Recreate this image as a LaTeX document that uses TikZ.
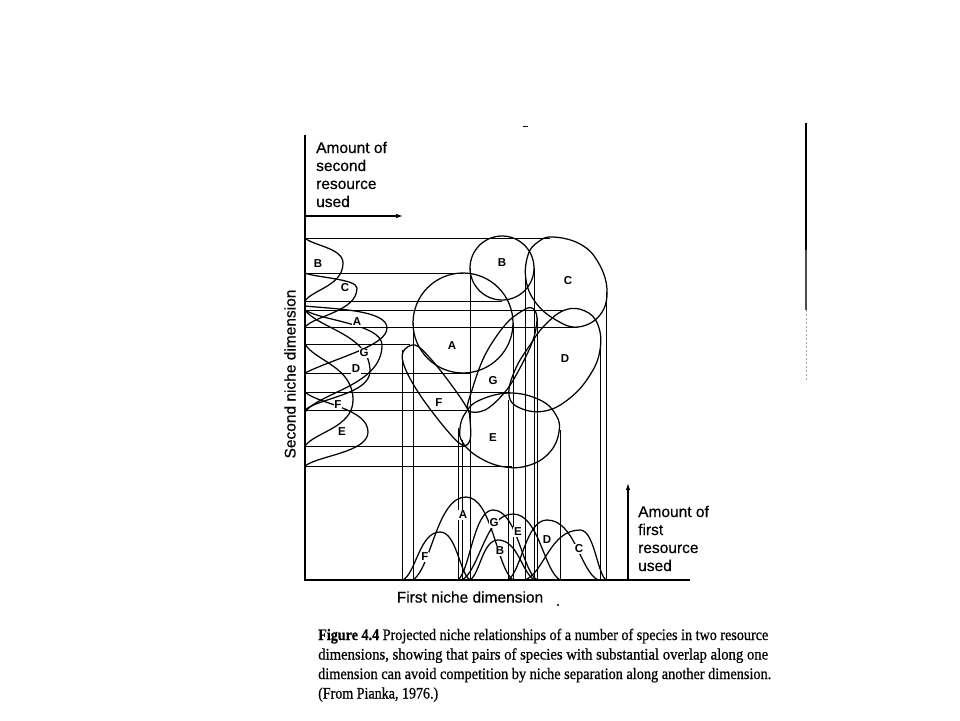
\documentclass[tikz,border=0pt]{standalone}
\usepackage{fontspec}
\setmainfont{Liberation Serif}
\setsansfont{Liberation Sans}
\newfontfamily\capfont[FakeBold=0.7]{Liberation Serif}
\newfontfamily\figfont[FakeBold=0.5]{Liberation Sans}
\usepackage{graphicx}
\usetikzlibrary{arrows.meta}
\tikzset{
 curve/.style={line width=1.25pt, line join=round},
 proj/.style={line width=0.8pt},
 axisline/.style={line width=1.7pt},
 lab/.style={font=\sffamily\bfseries\fontsize{11.5}{13}\selectfont, inner sep=0.8pt, fill=white},
 axtext/.style={font=\figfont\fontsize{15.5}{18}\selectfont, inner sep=0pt, anchor=base west},
 captext/.style={font=\capfont\fontsize{16}{18}\selectfont, inner sep=0pt, anchor=base west},
}
% bottom bell: x0, peak x, peak y, x1
\newcommand\bbell[5][]{\draw[curve,#1] (#2,580) .. controls ({#2+0.35*(#3-#2)},{580-0.15*(580-#4)}) and ({#3-0.55*(#3-#2)},#4) .. (#3,#4) .. controls ({#3+0.55*(#5-#3)},#4) and ({#5-0.35*(#5-#3)},{580-0.15*(580-#4)}) .. (#5,580);}
% left bell: y0, peak y, peak x, y1
\newcommand\lbell[5][]{\draw[curve,#1] (305,#2) .. controls ({305+0.2*(#4-305)},{#2+0.3*(#3-#2)}) and (#4,{#3-0.6*(#3-#2)}) .. (#4,#3) .. controls (#4,{#3+0.6*(#5-#3)}) and ({305+0.2*(#4-305)},{#5-0.3*(#5-#3)}) .. (305,#5);}
\begin{document}
\begin{tikzpicture}[x=1pt,y=-1pt]
\useasboundingbox (0,0) rectangle (960,720);
\fill[white] (0,0) rectangle (960,720);

% axes
\draw[axisline] (305,135) -- (305,580) -- (690,580);
\draw[line width=1.2pt,-{Latex[length=7pt,width=4.5pt]}] (305,216) -- (403,216);
\draw[line width=1.2pt,-{Latex[length=7pt,width=4.5pt]}] (628,580) -- (628,483);

% projection lines
\foreach \y/\xe in {238/550, 273/463, 301/502, 310/565, 327/578, 344/410, 373/470, 392/510, 410/468, 446/465, 466/512}
  \draw[proj] (305,\y) -- (\xe,\y);
\foreach \x/\yt in {402/350, 413/323, 458/428, 462/440, 470/268, 508/400, 513/323, 525/268, 534/268, 537/318, 560/430, 600/345, 606/292}
  \draw[proj] (\x,\yt) -- (\x,580);

% two-dimensional niches
\draw[curve] (502,268) circle[radius=32pt];
\draw[curve] (463,323) circle[radius=50pt];
\draw[curve] plot[smooth cycle, tension=0.7] coordinates {(553,237) (580,244) (598,262) (607,290) (600,315) (578,327) (556,320) (536,303) (526,280) (528,255) (538,242)};
\draw[curve] plot[smooth cycle, tension=0.7] coordinates {(565,310) (585,311) (598,325) (600,350) (590,375) (570,398) (545,411) (520,408) (509,395) (515,370) (530,345) (545,325)};
\draw[curve] plot[smooth cycle, tension=0.6] coordinates {(468,410) (472,390) (485,355) (505,325) (522,311) (532,308) (537,318) (533,340) (520,368) (505,392) (485,410)};
\draw[curve] plot[smooth cycle, tension=0.6] coordinates {(403,352) (405,368) (420,395) (445,428) (462,445) (470,440) (470,420) (467,408) (450,383) (430,358) (415,345)};
\draw[curve] plot[smooth cycle, tension=0.7] coordinates {(460,428) (466,412) (480,400) (510,393) (540,400) (556,415) (559,432) (550,452) (530,465) (505,467) (480,458) (463,443)};

% left projections (second dimension)
\lbell{238}{263}{343}{301}
\lbell{273}{288}{357}{327}
\draw[curve] (305,306) .. controls (335,309) and (387,310) .. (387,328) .. controls (387,346) and (335,358) .. (305,373);
\lbell{310}{345}{382}{412}
\lbell{310}{371}{370}{410}
\lbell{344}{400}{353}{446}
\lbell{392}{432}{368}{466}

% bottom projections (first dimension)
\bbell{403}{440}{532}{470}
\bbell{413}{466}{497}{513}
\bbell{458}{493}{510}{537}
\bbell{470}{498}{540}{535}
\bbell{462}{513}{514}{560}
\bbell{508}{547}{520}{598}
\bbell{525}{580}{530}{606}

% labels: left
\node[lab] (lB) at (318,264) {B};
\node[lab] (lC) at (345,288) {C};
\node[lab] (lA) at (357,322) {A};
\node[lab] (lG) at (364,353) {G};
\node[lab] (lD) at (356,369) {D};
\node[lab] (lF) at (338,405) {F};
\node[lab] (lE) at (342,432) {E};
% labels: bottom
\node[lab] (bF) at (425,557) {F};
\node[lab] (bA) at (463,515) {A};
\node[lab] (bG) at (494,523) {G};
\node[lab] (bB) at (500,551) {B};
\node[lab] (bE) at (518,532) {E};
\node[lab] (bD) at (547,540) {D};
\node[lab] (bC) at (579,549) {C};
% labels: niches
\node[lab] (nB) at (502,263) {B};
\node[lab] (nC) at (568,281) {C};
\node[lab] (nA) at (452,346) {A};
\node[lab] (nD) at (565,359) {D};
\node[lab] (nG) at (493,381) {G};
\node[lab] (nF) at (439,403) {F};
\node[lab] (nE) at (493,438) {E};

% axis texts
\node[axtext] (t1) at (316,153) {Amount of};
\node[axtext] (t2) at (316,171) {second};
\node[axtext] (t3) at (316,189) {resource};
\node[axtext] (t4) at (316,207) {used};
\node[axtext] (r1) at (638,517) {Amount of};
\node[axtext] (r2) at (638,535) {first};
\node[axtext] (r3) at (638,553) {resource};
\node[axtext] (r4) at (638,571) {used};
\node[font=\figfont\fontsize{15.5}{18}\selectfont, inner sep=0pt, rotate=90] (yl) at (290,374) {Second niche dimension};
\node[font=\figfont\fontsize{15.5}{18}\selectfont, inner sep=0pt] (xl) at (470,597) {First niche dimension};

% caption
\node[captext] (c1) at (318,640) {\resizebox{450pt}{\height}{\textbf{Figure 4.4} Projected niche relationships of a number of species in two resource}};
\node[captext] (c2) at (318,659.5) {\resizebox{450pt}{\height}{dimensions, showing that pairs of species with substantial overlap along one}};
\node[captext] (c3) at (318,679) {\resizebox{453pt}{\height}{dimension can avoid competition by niche separation along another dimension.}};
\node[captext] (c4) at (318,698.5) {\resizebox{120pt}{\height}{(From Pianka, 1976.)}};

% scan marks
\draw[line width=1pt] (523,126) -- (528,126);
\fill (558,605) circle[radius=1.2pt];
\draw[line width=2.6pt] (806,123) -- (806,250);
\draw[line width=1.6pt, black!70] (806,250) -- (806,310);
\draw[line width=1pt, black!35, dash pattern=on 2pt off 2pt] (806,310) -- (806,380);
\end{tikzpicture}
\end{document}
